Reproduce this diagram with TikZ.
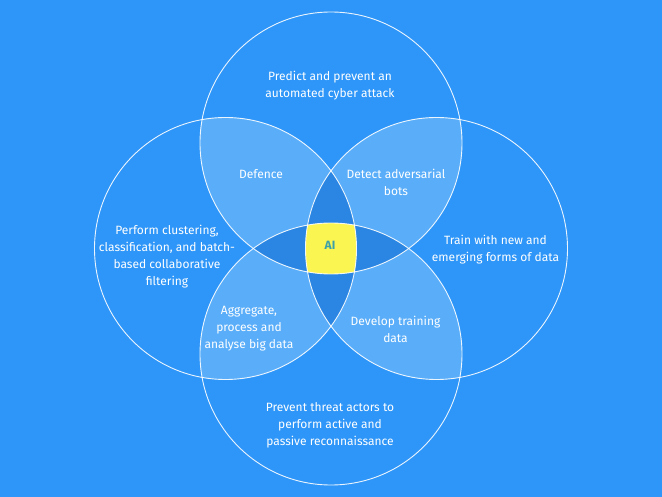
\documentclass[tikz,border=0pt]{standalone}
\usepackage{fontspec}
\setmainfont{Fira Sans}
\begin{document}
\begin{tikzpicture}[x=1pt,y=-1pt,
  lbl/.style={text=white, align=center, font=\fontsize{12}{17}\selectfont, inner sep=0pt},
  ring/.style={draw=white, line width=0.9pt, draw opacity=0.9}]
\definecolor{bg}{RGB}{46,150,248}
\definecolor{lightb}{RGB}{90,174,249}
\definecolor{darkb}{RGB}{42,134,226}
\definecolor{yel}{RGB}{250,245,80}
\definecolor{ait}{RGB}{60,160,170}
\def\rr{131}
\def\CT{(331,143) circle[radius=\rr]}
\def\CL{(225.5,248.5) circle[radius=\rr]}
\def\CR{(436.5,248.5) circle[radius=\rr]}
\def\CB{(331,354) circle[radius=\rr]}
\fill[bg] (0,0) rectangle (662,497);
\useasboundingbox (0,0) rectangle (662,497);
% two-circle overlaps
\begin{scope}\clip \CT; \fill[lightb] \CL; \fill[lightb] \CR; \end{scope}
\begin{scope}\clip \CB; \fill[lightb] \CL; \fill[lightb] \CR; \end{scope}
% three-circle overlaps
\begin{scope}\clip \CT; \clip \CL; \fill[darkb] \CR; \fill[darkb] \CB; \end{scope}
\begin{scope}\clip \CB; \clip \CR; \fill[darkb] \CL; \fill[darkb] \CT; \end{scope}
% four-circle overlap
\begin{scope}\clip \CT; \clip \CL; \clip \CR; \fill[yel] \CB; \end{scope}
% outlines
\draw[ring] \CT; \draw[ring] \CL; \draw[ring] \CR; \draw[ring] \CB;
% labels
\node[lbl] (top) at (330,86) {Predict and prevent an\\automated cyber attack};
\node[lbl] (def) at (261,174) {Defence};
\node[lbl] (det) at (396,182.5) {Detect adversarial\\bots};
\node[lbl] (clu) at (167,256.5) {Perform clustering,\\classification, and batch-\\based collaborative\\filtering};
\node[lbl] (trn) at (495.5,249.5) {Train with new and\\emerging forms of data};
\node[lbl, text=ait, font=\fontsize{12}{14}\selectfont\bfseries] (ai) at (330,245) {AI};
\node[lbl] (agg) at (249,329) {Aggregate,\\process and\\analyse big data};
\node[lbl] (dev) at (395.5,329) {Develop training\\data};
\node[lbl] (bot) at (330,425) {Prevent threat actors to\\perform active and\\passive reconnaissance};
\end{tikzpicture}
\end{document}
